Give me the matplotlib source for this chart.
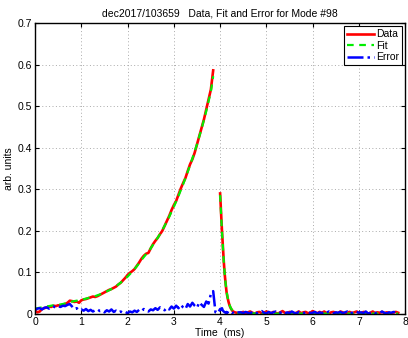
import matplotlib.pyplot as plt
import numpy as np

plt.rcParams['font.family'] = ['Liberation Sans', 'DejaVu Sans']

# rise, 0 .. 3.85 ms
t_rise = [0.00, 0.05, 0.10, 0.15, 0.20, 0.25, 0.30, 0.35, 0.40, 0.45,
          0.50, 0.55, 0.60, 0.65, 0.70, 0.75, 0.80, 0.85, 0.90, 0.95,
          1.00, 1.05, 1.10, 1.15, 1.20, 1.25, 1.30, 1.35, 1.40, 1.45,
          1.50, 1.55, 1.60, 1.65, 1.70, 1.75, 1.80, 1.85, 1.90, 1.95,
          2.00, 2.05, 2.10, 2.15, 2.20, 2.25, 2.30, 2.35, 2.40, 2.45,
          2.50, 2.55, 2.60, 2.65, 2.70, 2.75, 2.80, 2.85, 2.90, 2.95,
          3.00, 3.05, 3.10, 3.15, 3.20, 3.25, 3.30, 3.35, 3.40, 3.45,
          3.50, 3.55, 3.60, 3.65, 3.70, 3.75, 3.80, 3.85]
data_rise = [0.008, 0.004, 0.006, 0.012, 0.014, 0.016, 0.018, 0.017, 0.020, 0.019,
             0.021, 0.020, 0.023, 0.024, 0.027, 0.032, 0.031, 0.029, 0.030, 0.027,
             0.033, 0.035, 0.036, 0.038, 0.040, 0.042, 0.041, 0.043, 0.046, 0.049,
             0.052, 0.055, 0.058, 0.060, 0.063, 0.066, 0.071, 0.075, 0.081, 0.087,
             0.094, 0.099, 0.103, 0.108, 0.116, 0.124, 0.133, 0.140, 0.145, 0.147,
             0.158, 0.168, 0.176, 0.183, 0.192, 0.200, 0.212, 0.224, 0.236, 0.250,
             0.262, 0.272, 0.287, 0.302, 0.315, 0.327, 0.344, 0.360, 0.372, 0.388,
             0.408, 0.428, 0.448, 0.468, 0.492, 0.516, 0.540, 0.586]
error_rise = [0.010, 0.013, 0.014, 0.011, 0.015, 0.016, 0.013, 0.017, 0.018, 0.015,
              0.018, 0.017, 0.020, 0.019, 0.022, 0.024, 0.018, 0.012, 0.014, 0.009,
              0.011, 0.008, 0.012, 0.007, 0.010, 0.006, 0.009, 0.011, 0.007, 0.008,
              0.004, 0.009, 0.006, 0.011, 0.005, 0.008, 0.004, 0.006, 0.003, 0.005,
              0.002, 0.006, 0.004, 0.008, 0.005, 0.010, 0.007, 0.012, 0.008, 0.006,
              0.011, 0.009, 0.014, 0.010, 0.016, 0.012, 0.009, 0.015, 0.011, 0.018,
              0.013, 0.020, 0.014, 0.022, 0.016, 0.012, 0.024, 0.018, 0.027, 0.020,
              0.015, 0.028, 0.022, 0.017, 0.030, 0.025, 0.048, 0.055]

t_fit_rise = [0.0, 0.1, 0.2, 0.3, 0.4, 0.5, 0.6, 0.7, 0.8, 0.9,
              1.0, 1.1, 1.2, 1.3, 1.4, 1.5, 1.6, 1.7, 1.8, 1.9,
              2.0, 2.1, 2.2, 2.3, 2.4, 2.5, 2.6, 2.7, 2.8, 2.9,
              3.0, 3.1, 3.2, 3.3, 3.4, 3.5, 3.6, 3.7, 3.8, 3.85]
fit_rise = [0.013, 0.015, 0.017, 0.019, 0.021, 0.022, 0.024, 0.027, 0.030, 0.032,
            0.034, 0.037, 0.040, 0.043, 0.047, 0.052, 0.057, 0.063, 0.071, 0.080,
            0.090, 0.102, 0.115, 0.130, 0.144, 0.158, 0.175, 0.192, 0.212, 0.234,
            0.258, 0.284, 0.312, 0.342, 0.374, 0.408, 0.446, 0.488, 0.535, 0.572]

# decay, 4.0 .. 4.4 ms
t_decay = [4.00, 4.02, 4.04, 4.06, 4.08, 4.10, 4.12, 4.14, 4.16, 4.18,
           4.20, 4.22, 4.25, 4.28, 4.32, 4.36, 4.40]
data_decay = [0.290, 0.245, 0.200, 0.162, 0.125, 0.095, 0.072, 0.052, 0.040, 0.030,
              0.022, 0.016, 0.010, 0.006, 0.004, 0.003, 0.002]
fit_decay = [0.286, 0.242, 0.198, 0.160, 0.124, 0.095, 0.072, 0.054, 0.041, 0.031,
             0.023, 0.017, 0.011, 0.007, 0.004, 0.003, 0.002]
t_err_gap = [3.90, 3.95]
error_gap = [0.004, 0.002]
error_decay = [0.012, 0.010, 0.014, 0.008, 0.006, 0.004, 0.003, 0.005, 0.002, 0.003,
               0.001, 0.004, 0.002, 0.003, 0.001, 0.002, 0.004]

# tail, 4.45 .. 7.85 ms
t_tail = [4.45, 4.50, 4.55, 4.60, 4.65, 4.70, 4.75, 4.80, 4.85, 4.90,
          4.95, 5.00, 5.05, 5.10, 5.15, 5.20, 5.25, 5.30, 5.35, 5.40,
          5.45, 5.50, 5.55, 5.60, 5.65, 5.70, 5.75, 5.80, 5.85, 5.90,
          5.95, 6.00, 6.05, 6.10, 6.15, 6.20, 6.25, 6.30, 6.35, 6.40,
          6.45, 6.50, 6.55, 6.60, 6.65, 6.70, 6.75, 6.80, 6.85, 6.90,
          6.95, 7.00, 7.05, 7.10, 7.15, 7.20, 7.25, 7.30, 7.35, 7.40,
          7.45, 7.50, 7.55, 7.60, 7.65, 7.70, 7.75, 7.80, 7.85]
data_tail = [0.003, 0.005, 0.002, 0.004, 0.006, 0.003, 0.001, 0.004, 0.005, 0.002,
             0.003, 0.006, 0.004, 0.002, 0.005, 0.003, 0.001, 0.004, 0.007, 0.003,
             0.002, 0.005, 0.004, 0.001, 0.003, 0.006, 0.002, 0.004, 0.005, 0.002,
             0.003, 0.007, 0.004, 0.002, 0.005, 0.003, 0.006, 0.002, 0.001, 0.004,
             0.005, 0.003, 0.002, 0.006, 0.004, 0.001, 0.003, 0.005, 0.002, 0.004,
             0.006, 0.003, 0.002, 0.005, 0.004, 0.001, 0.003, 0.006, 0.002, 0.004,
             0.003, 0.005, 0.002, 0.004, 0.003, 0.001, 0.004, 0.005, 0.003]
error_tail = [0.004, 0.002, 0.005, 0.003, 0.001, 0.006, 0.003, 0.002, 0.004, 0.007,
              0.003, 0.001, 0.005, 0.002, 0.004, 0.006, 0.002, 0.003, 0.005, 0.001,
              0.004, 0.002, 0.006, 0.003, 0.001, 0.005, 0.003, 0.002, 0.004, 0.006,
              0.002, 0.003, 0.005, 0.001, 0.004, 0.002, 0.005, 0.003, 0.006, 0.002,
              0.001, 0.004, 0.003, 0.005, 0.002, 0.004, 0.006, 0.001, 0.003, 0.002,
              0.005, 0.003, 0.004, 0.002, 0.006, 0.001, 0.003, 0.005, 0.002, 0.004,
              0.002, 0.006, 0.003, 0.001, 0.004, 0.003, 0.005, 0.002, 0.003]
t_fit_tail = [4.45, 5.0, 6.0, 7.0, 7.85]
fit_tail = [0.002, 0.001, 0.001, 0.001, 0.001]

# join segments, NaN marks the gap between the two pulses
t_data = t_rise + [np.nan] + t_decay + t_tail
y_data = data_rise + [np.nan] + data_decay + data_tail
t_fit = t_fit_rise + [np.nan] + t_decay + t_fit_tail
y_fit = fit_rise + [np.nan] + fit_decay + fit_tail
t_err = t_rise + t_err_gap + t_decay + t_tail
y_err = error_rise + error_gap + error_decay + error_tail

fig = plt.figure(figsize=(4.08, 3.38), dpi=100)
ax = fig.add_axes([0.086, 0.071, 0.907, 0.861])

ax.plot(t_data, y_data, color='red', lw=1.9, label='Data')
ax.plot(t_fit, y_fit, color='#00ee00', lw=1.6, ls='--', dashes=(3, 2.5), label='Fit')
ax.plot(t_err, y_err, color='blue', lw=1.8, ls='-.', label='Error')

ax.set_xlim(0, 8)
ax.set_ylim(0, 0.7)
ax.set_xticks(range(9))
ax.set_yticks([0, 0.1, 0.2, 0.3, 0.4, 0.5, 0.6, 0.7])
ax.set_yticklabels(['0', '0.1', '0.2', '0.3', '0.4', '0.5', '0.6', '0.7'])
ax.tick_params(direction='in', top=True, right=True, labelsize=7.5, length=3, pad=2)
ax.grid(True, ls=(0, (1, 2.5)), color='#aaaaaa', lw=0.7)
for s in ax.spines.values():
    s.set_linewidth(1.0)

ax.set_title('dec2017/103659   Data, Fit and Error for Mode #98', fontsize=7.5, pad=5)
ax.set_xlabel('Time  (ms)', fontsize=7.5, labelpad=1)
ax.set_ylabel('arb. units', fontsize=7.5, labelpad=3)

leg = ax.legend(loc='upper right', fontsize=7.5, fancybox=False, framealpha=1,
                edgecolor='black', borderaxespad=0.3, handlelength=2.6,
                handletextpad=0.2, labelspacing=0.15, borderpad=0.3)
leg.get_frame().set_linewidth(0.8)

fig.savefig('out.png', dpi=100)
